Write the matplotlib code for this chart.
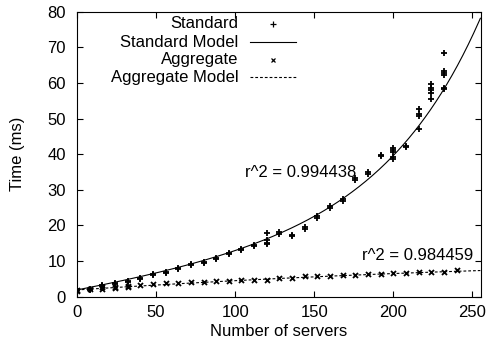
import numpy as np
import matplotlib
matplotlib.use("Agg")
import matplotlib.pyplot as plt

plt.rcParams['font.family'] = ['Liberation Sans', 'DejaVu Sans']
plt.rcParams['font.size'] = 12

# measured times (ms) per number of servers
std_servers = [0, 8, 16, 24, 32, 40, 48, 56, 64, 72, 80, 88, 96, 104, 112,
               120, 128, 136, 144, 152, 160, 168, 176, 184, 192, 200, 208, 216, 224, 232,
               0, 8, 16, 24, 32, 40, 48, 56, 64, 72, 80, 88, 96, 104, 112,
               120, 120, 120, 128, 136, 144, 152, 160, 168, 176, 184, 192,
               200, 200, 200, 200, 208, 216, 216, 216, 224, 224, 224, 224,
               232, 232, 232, 232, 232]
std_times = [2.1, 2.3, 3.0, 3.6, 4.2, 4.9, 6.3, 6.7, 7.7, 8.9, 9.5, 10.6, 11.9, 13.1, 14.3,
             15.2, 17.7, 17.0, 19.1, 22.2, 25.0, 27.0, 32.8, 34.5, 39.4, 39.3, 42.1, 47.2, 55.6, 58.2,
             1.8, 2.0, 3.3, 3.9, 4.5, 5.2, 6.0, 7.0, 8.0, 9.2, 9.8, 10.9, 12.2, 13.4, 14.6,
             14.7, 15.9, 17.8, 18.1, 17.3, 19.5, 22.6, 25.4, 27.3, 33.2, 35.0, 39.8,
             38.7, 40.6, 41.1, 41.8, 42.4, 50.6, 51.2, 52.6, 57.2, 58.0, 58.7, 59.7,
             58.6, 62.1, 62.7, 63.3, 68.4]

agg_servers = [0, 8, 16, 24, 32, 40, 48, 56, 64, 72, 80, 88, 96, 104, 112, 120,
               128, 136, 144, 152, 160, 168, 176, 184, 192, 200, 208, 216, 224, 232, 240,
               0, 16, 24, 32]
agg_times = [1.9, 2.1, 2.6, 2.8, 3.0, 3.2, 3.5, 3.8, 3.9, 4.1, 4.2, 4.4, 4.5, 4.6, 4.7, 4.8,
             5.2, 5.3, 5.8, 5.8, 5.9, 6.1, 6.2, 6.3, 6.4, 6.6, 6.7, 6.8, 6.9, 7.0, 7.6,
             1.5, 2.3, 2.5, 2.7]

# fitted model parameters
std_fit = (0.9, 0.071, 1.0, 0.016)   # a + b*x + c*exp(d*x)
agg_fit = (1.9, 0.029, -3e-5)        # a + b*x + c*x^2
std_r2 = "r^2 = 0.994438"
agg_r2 = "r^2 = 0.984459"

xs = np.linspace(0, 255, 300)
a, b, c, d = std_fit
std_model = a + b * xs + c * np.exp(d * xs)
agg_model = agg_fit[0] + agg_fit[1] * xs + agg_fit[2] * xs ** 2

fig = plt.figure(figsize=(4.87, 3.51), dpi=100)
ax = fig.add_axes([0.158, 0.1547, 0.83, 0.812])

ax.plot(std_servers, std_times, ls='none', marker='+', ms=4.5, mew=1.3, color='black')
ax.plot(xs, std_model, color='black', lw=0.8)
ax.plot(agg_servers, agg_times, ls='none', marker='x', ms=3.6, mew=1.3, color='black')
ax.plot(xs, agg_model, color='black', lw=0.8, dashes=(2.5, 1.8))

ax.text(176.5, 34.8, std_r2, ha='right', va='center')
ax.text(250.5, 11.7, agg_r2, ha='right', va='center')

# legend, gnuplot style: right aligned text followed by the sample
labels = ["Standard", "Standard Model", "Aggregate", "Aggregate Model"]
rows = [0.957, 0.893, 0.831, 0.770]
tx, lx0, lx1 = 0.399, 0.428, 0.542
for lab, yy in zip(labels, rows):
    ax.text(tx, yy, lab, transform=ax.transAxes, ha='right', va='center')
ax.plot([(lx0 + lx1) / 2], [rows[0]], transform=ax.transAxes, marker='+', ms=4.5, mew=0.9,
        color='black', ls='none')
ax.plot([lx0, lx1], [rows[1]] * 2, transform=ax.transAxes, color='black', lw=0.8)
ax.plot([(lx0 + lx1) / 2], [rows[2]], transform=ax.transAxes, marker='x', ms=3.2, mew=0.9,
        color='black', ls='none')
ax.plot([lx0, lx1], [rows[3]] * 2, transform=ax.transAxes, color='black', lw=0.8,
        dashes=(2.5, 1.8))

ax.set_xlim(0, 255.5)
ax.set_ylim(0, 80)
ax.set_xticks([0, 50, 100, 150, 200, 250])
ax.set_yticks(range(0, 81, 10))
ax.tick_params(direction='in', length=4, width=0.8, top=True, right=True)
ax.tick_params(axis='x', pad=6)
ax.tick_params(axis='y', pad=8)
for s in ax.spines.values():
    s.set_linewidth(0.8)

ax.set_xlabel("Number of servers", labelpad=3)
ax.set_ylabel("Time (ms)", labelpad=16)

fig.savefig("out.png", dpi=100)
